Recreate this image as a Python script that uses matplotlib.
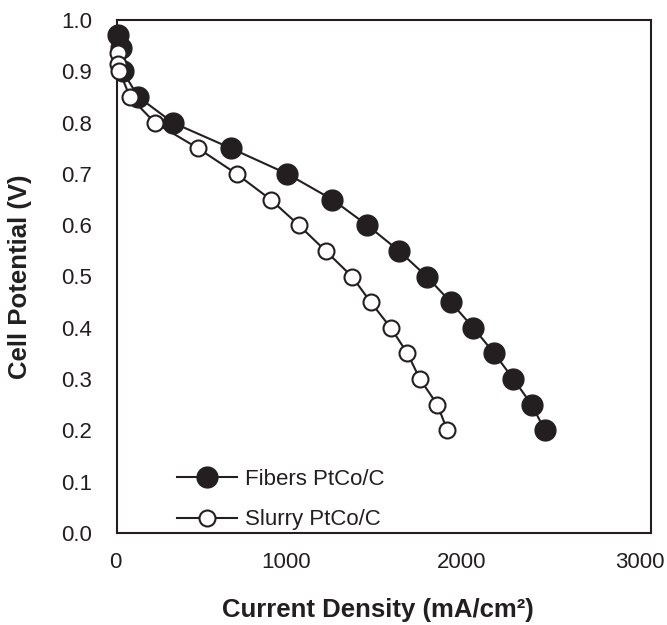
import matplotlib.pyplot as plt
from matplotlib.transforms import ScaledTranslation

plt.rcParams['font.family'] = ['Liberation Sans', 'DejaVu Sans']

# polarization curves
fibers_j = [7, 20, 32, 120, 313, 640, 957, 1210, 1406, 1584, 1740, 1875, 2002, 2120, 2227, 2330, 2404]
fibers_v = [0.97, 0.945, 0.90, 0.85, 0.80, 0.75, 0.70, 0.65, 0.60, 0.55, 0.50, 0.45, 0.40, 0.35, 0.30, 0.25, 0.20]
slurry_j = [5, 8, 14, 73, 212, 455, 672, 863, 1022, 1172, 1320, 1425, 1538, 1632, 1702, 1800, 1856]
slurry_v = [0.935, 0.915, 0.90, 0.85, 0.80, 0.75, 0.70, 0.65, 0.60, 0.55, 0.50, 0.45, 0.40, 0.35, 0.30, 0.25, 0.20]

x_ticks = [0, 1000, 2000, 3000]
y_ticks = [0.0, 0.1, 0.2, 0.3, 0.4, 0.5, 0.6, 0.7, 0.8, 0.9, 1.0]

dark = '#231f20'

fig = plt.figure(figsize=(6.67, 6.25), dpi=100)
ax = fig.add_axes([0.1754, 0.1472, 0.8006, 0.8208])

ax.plot(fibers_j, fibers_v, '-o', color=dark, lw=1.5, ms=15, mfc=dark, mec=dark,
        label='Fibers PtCo/C', clip_on=False, zorder=3)
ax.plot(slurry_j, slurry_v, '-o', color=dark, lw=1.5, ms=11.5, mfc='white', mec=dark,
        mew=1.5, label='Slurry PtCo/C', clip_on=False, zorder=4)

ax.set_xlim(0, 3000)
ax.set_ylim(0, 1.0)
ax.set_xticks(x_ticks)
ax.set_yticks(y_ticks)
ax.set_yticklabels([f'{v:.1f}' for v in y_ticks])
ax.tick_params(length=0, labelsize=16, labelcolor=dark)
ax.tick_params(axis='x', pad=14)
ax.tick_params(axis='y', pad=18)
for s in ax.spines.values():
    s.set_linewidth(1.5)
    s.set_color(dark)

# excel-style: x labels sit a little left of their ticks
for lab, dx in zip(ax.get_xticklabels(), [-1.5, -9, -11, -11]):
    lab.set_transform(lab.get_transform() + ScaledTranslation(dx / 100, 0, fig.dpi_scale_trans))

fig.text(378/667, 1-610/625, 'Current Density (mA/cm²)', ha='center', va='center',
         fontsize=18.5, fontweight='bold', color=dark)
fig.text(20/667, 1-277/625, 'Cell Potential (V)', ha='center', va='center',
         rotation=90, fontsize=18.5, fontweight='bold', color=dark)

ax.legend(loc='upper left', bbox_to_anchor=(0.112, 0.125), frameon=False,
          fontsize=16, handlelength=2.7, handletextpad=0.35, labelspacing=0.88,
          borderpad=0, borderaxespad=0, numpoints=1, labelcolor=dark)

fig.savefig('out.png', dpi=100)
